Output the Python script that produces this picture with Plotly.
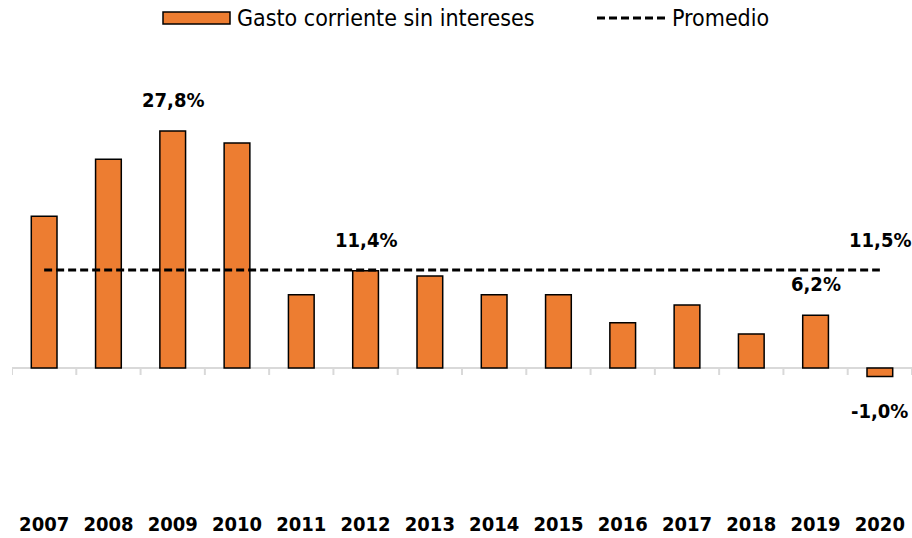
import plotly.graph_objects as go

years = ["2007", "2008", "2009", "2010", "2011", "2012", "2013",
         "2014", "2015", "2016", "2017", "2018", "2019", "2020"]
gasto = [17.8, 24.5, 27.8, 26.4, 8.6, 11.4, 10.8, 8.6, 8.6, 5.3, 7.4, 4.0, 6.2, -1.0]
promedio = 11.5
labelled_years = ["2009", "2012", "2019", "2020"]

FONT = "DejaVu Sans Condensed"
W, H = 912, 538
L, R, T, B = 12, 0, 40, 28
PW, PH = W - L - R, H - T - B

def px(x):
    return (x - L) / PW

def py(y):
    return (H - B - y) / PH

fig = go.Figure()
fig.add_trace(go.Bar(
    x=years, y=gasto, name="Gasto corriente sin intereses",
    marker=dict(color="#ED7D31", line=dict(color="black", width=1.5)),
    showlegend=False,
))
fig.add_trace(go.Scatter(
    x=years, y=[promedio] * len(years), name="Promedio", mode="lines",
    line=dict(color="black", width=3, dash="8px,4px"), showlegend=False,
))

fmt = lambda v: f"{v:.1f}%".replace(".", ",")
annotations = []
for i, (yr, v) in enumerate(zip(years, gasto)):
    if yr in labelled_years:
        annotations.append(dict(
            x=i, y=v, xref="x", yref="y", text=fmt(v), showarrow=False,
            yshift=31 if v >= 0 else -34,
            font=dict(family=FONT, size=20, color="black", weight="bold"),
        ))
annotations.append(dict(
    x=len(years) - 1, y=promedio, xref="x", yref="y", text=fmt(promedio),
    showarrow=False, yshift=30,
    font=dict(family=FONT, size=20, color="black", weight="bold"),
))
# legend texts
annotations.append(dict(
    x=px(235), y=py(18), xref="paper", yref="paper", xanchor="left", yanchor="middle",
    text="Gasto corriente sin intereses", showarrow=False,
    font=dict(family=FONT, size=23, color="black"),
))
annotations.append(dict(
    x=px(670), y=py(18), xref="paper", yref="paper", xanchor="left", yanchor="middle",
    text="Promedio", showarrow=False,
    font=dict(family=FONT, size=23, color="black"),
))

shapes = []
# category boundary ticks on zero line
for i in range(len(years) + 1):
    shapes.append(dict(
        type="line", xref="x", yref="y", x0=i - 0.5, x1=i - 0.5,
        ysizemode="pixel", yanchor=0, y0=0, y1=-7,
        line=dict(color="#D9D9D9", width=2), layer="below",
    ))
# legend symbols
shapes.append(dict(
    type="rect", xref="paper", yref="paper",
    x0=px(163), x1=px(230), y0=py(24), y1=py(12),
    fillcolor="#ED7D31", line=dict(color="black", width=1.5),
))
shapes.append(dict(
    type="line", xref="paper", yref="paper",
    x0=px(597), x1=px(665), y0=py(18), y1=py(18),
    line=dict(color="black", width=3, dash="8px,4px"),
))

zero_px = 368
scale = (zero_px - 131) / 27.8
ymax = (zero_px - T) / scale
ymin = -(H - B - zero_px) / scale

fig.update_layout(
    width=W, height=H,
    margin=dict(l=L, r=R, t=T, b=B),
    plot_bgcolor="white", paper_bgcolor="white",
    bargap=0.6,
    annotations=annotations, shapes=shapes,
    xaxis=dict(
        type="category", range=[-0.5, len(years) - 0.5],
        showline=False, ticks="", showgrid=False,
        tickfont=dict(family=FONT, size=20, color="black", weight="bold"),
    ),
    yaxis=dict(
        range=[ymin, ymax], showgrid=False, showticklabels=False,
        zeroline=True, zerolinecolor="#D9D9D9", zerolinewidth=2,
    ),
)

fig.write_html(
    "out.html",
    config={"displayModeBar": False},
    post_script="document.body.style.margin='0';document.body.style.overflow='hidden';",
)
